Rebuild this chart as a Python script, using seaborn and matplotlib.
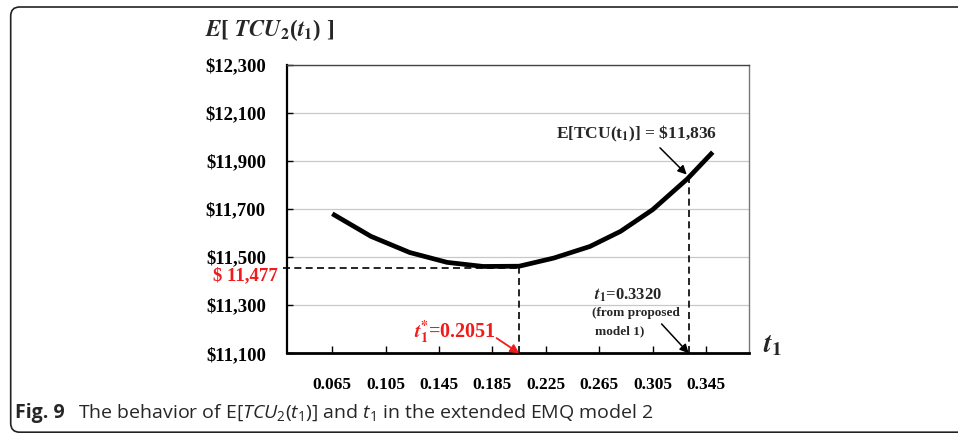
import matplotlib
matplotlib.use("Agg")
import matplotlib.pyplot as plt
from matplotlib.patches import FancyBboxPatch
from matplotlib.transforms import IdentityTransform, blended_transform_factory
import pandas as pd
import seaborn as sns

# curve E[TCU2(t1)]
t1_vals = [0.065, 0.094, 0.123, 0.151, 0.178, 0.205, 0.231, 0.258, 0.281, 0.305, 0.331, 0.350]
tcu_vals = [11680, 11586, 11519, 11478, 11461, 11462, 11496, 11544, 11607, 11697, 11825, 11936]

x_ticks = [0.065, 0.105, 0.145, 0.185, 0.225, 0.265, 0.305, 0.345]
y_ticks = [11100, 11300, 11500, 11700, 11900, 12100, 12300]

opt_t1 = 0.2051
opt_cost = 11477
opt_level = 11453      # height of the dashed guide as drawn
model1_t1 = 0.3320
model1_cost = 11836

RED = "#ee1c1c"
SERIF = "Liberation Serif"

sns.set_style("white")
plt.rcParams["font.family"] = [SERIF, "DejaVu Serif"]
plt.rcParams["font.weight"] = "bold"
# caption math (italic TCU, t) in Open Sans, regular weight
plt.rcParams["mathtext.fontset"] = "custom"
plt.rcParams["mathtext.rm"] = "Open Sans:weight=normal"
plt.rcParams["mathtext.it"] = "Open Sans:style=italic:weight=normal"
plt.rcParams["mathtext.bf"] = "Open Sans:weight=bold"

fig = plt.figure(figsize=(9.58, 4.33), dpi=100)
ax = fig.add_axes([287.3 / 958, (433 - 353.3) / 433, 462 / 958, 288.7 / 433])

df = pd.DataFrame({"t1": t1_vals, "tcu": tcu_vals})
sns.lineplot(data=df, x="t1", y="tcu", ax=ax, color="black", lw=3.4, sort=False,
             solid_capstyle="butt", solid_joinstyle="round")

ax.set_xlim(0.0313, 0.3774)
ax.set_ylim(y_ticks[0], y_ticks[-1])
ax.set_xticks(x_ticks)
ax.set_xticklabels([f"{v:.3f}" for v in x_ticks])
ax.set_yticks(y_ticks)
ax.set_yticklabels([f"${v:,}" for v in y_ticks])
ax.set_xlabel("")
ax.set_ylabel("")
ax.yaxis.grid(True, color="#c8c8c8", lw=0.9)
ax.xaxis.grid(False)
ax.tick_params(axis="y", direction="in", length=4, width=1, pad=15.5, labelsize=13.5,
               left=True, colors="black")
ax.tick_params(axis="x", direction="in", length=5, width=1, pad=17, labelsize=12.5,
               bottom=True, colors="black")
for lab in ax.get_xticklabels() + ax.get_yticklabels():
    lab.set_fontweight("bold")

ax.spines["left"].set_linewidth(1.6)
ax.spines["bottom"].set_linewidth(2.0)
ax.spines["left"].set_color("black")
ax.spines["bottom"].set_color("black")
ax.spines["top"].set_linewidth(1.0)
ax.spines["top"].set_color("#444444")
ax.spines["right"].set_linewidth(1.0)
ax.spines["right"].set_color("#777777")

# dashed guides
dash = (0, (4.2, 2.6))
x0 = ax.get_xlim()[0]
ax.hlines(opt_level, x0 - 0.003, opt_t1, colors="black", lw=1.2, linestyles=[dash], clip_on=False)
ax.vlines(opt_t1, y_ticks[0], opt_level, colors="black", lw=1.2, linestyles=[dash])
ax.vlines(model1_t1, y_ticks[0], model1_cost, colors="black", lw=1.2, linestyles=[dash])

# annotations
mfont = dict(math_fontfamily="stix")
ax.text(0.2932, 12011, r"E[TCU(t$_\mathbf{1}$)] = \$11,836", ha="center", va="center",
        fontsize=12.5, **mfont)
ax.annotate("", xy=(0.3305, 11843), xytext=(0.3105, 11954),
            arrowprops=dict(arrowstyle="-|>", color="black", lw=1.1, mutation_scale=13,
                            shrinkA=0, shrinkB=0), annotation_clip=False)

ax.text(0.2869, 11343, r"$\mathbfit{t}_\mathbf{1}$=0.3320", ha="center", va="center",
        fontsize=12, **mfont)
ax.text(0.2925, 11268, "(from proposed", ha="center", va="center", fontsize=9.5)
ax.text(0.2805, 11190, "model 1)", ha="center", va="center", fontsize=9.5)
ax.annotate("", xy=(model1_t1, y_ticks[0]), xytext=(0.3117, 11222),
            arrowprops=dict(arrowstyle="-|>", color="black", lw=1.1, mutation_scale=13,
                            shrinkA=0, shrinkB=0), annotation_clip=False)

ax.text(0.1569, 11191, r"$\mathbfit{t}_\mathbf{1}^{*}$=0.2051", ha="center", va="center",
        fontsize=14.5, color=RED, **mfont)
ax.annotate("", xy=(opt_t1, y_ticks[0]), xytext=(0.1881, 11163),
            arrowprops=dict(arrowstyle="-|>", color=RED, lw=1.3, mutation_scale=13,
                            shrinkA=0, shrinkB=0), annotation_clip=False)

trans = blended_transform_factory(ax.transAxes, ax.transData)
ax.text(-0.02, 11422, f"$ {opt_cost:,}", transform=trans, ha="right", va="center",
        fontsize=13.5, color=RED, clip_on=False)

ax.text(1.05, 0.025, r"$\mathbfit{t}_\mathbf{1}$", transform=ax.transAxes, ha="center",
        va="center", fontsize=20, **mfont)

fig.text(205 / 958, (433 - 30) / 433,
         r"$\mathbfit{E}$[ $\mathbfit{TCU}_\mathbf{2}$($\mathbfit{t}_\mathbf{1}$) ]",
         ha="left", va="center", fontsize=16.5, **mfont)

# caption
fig.text(15 / 958, 15 / 433, "Fig. 9", fontfamily="Open Sans", fontweight="bold",
         fontsize=14, va="baseline", ha="left")
fig.text(78 / 958, 15 / 433,
         r"The behavior of E[$TCU_2$($t_1$)] and $t_1$ in the extended EMQ model 2",
         fontfamily="Open Sans", fontweight="normal", fontsize=14, va="baseline", ha="left",
         math_fontfamily="custom")

# rounded frame around the figure panel
frame = FancyBboxPatch((10.7, 0.8), 1200, 425.2, boxstyle="round,pad=0,rounding_size=9",
                       transform=IdentityTransform(), fill=False, ec="#222222", lw=1.2)
fig.add_artist(frame)

fig.savefig("out.png", dpi=100)
plt.close(fig)
